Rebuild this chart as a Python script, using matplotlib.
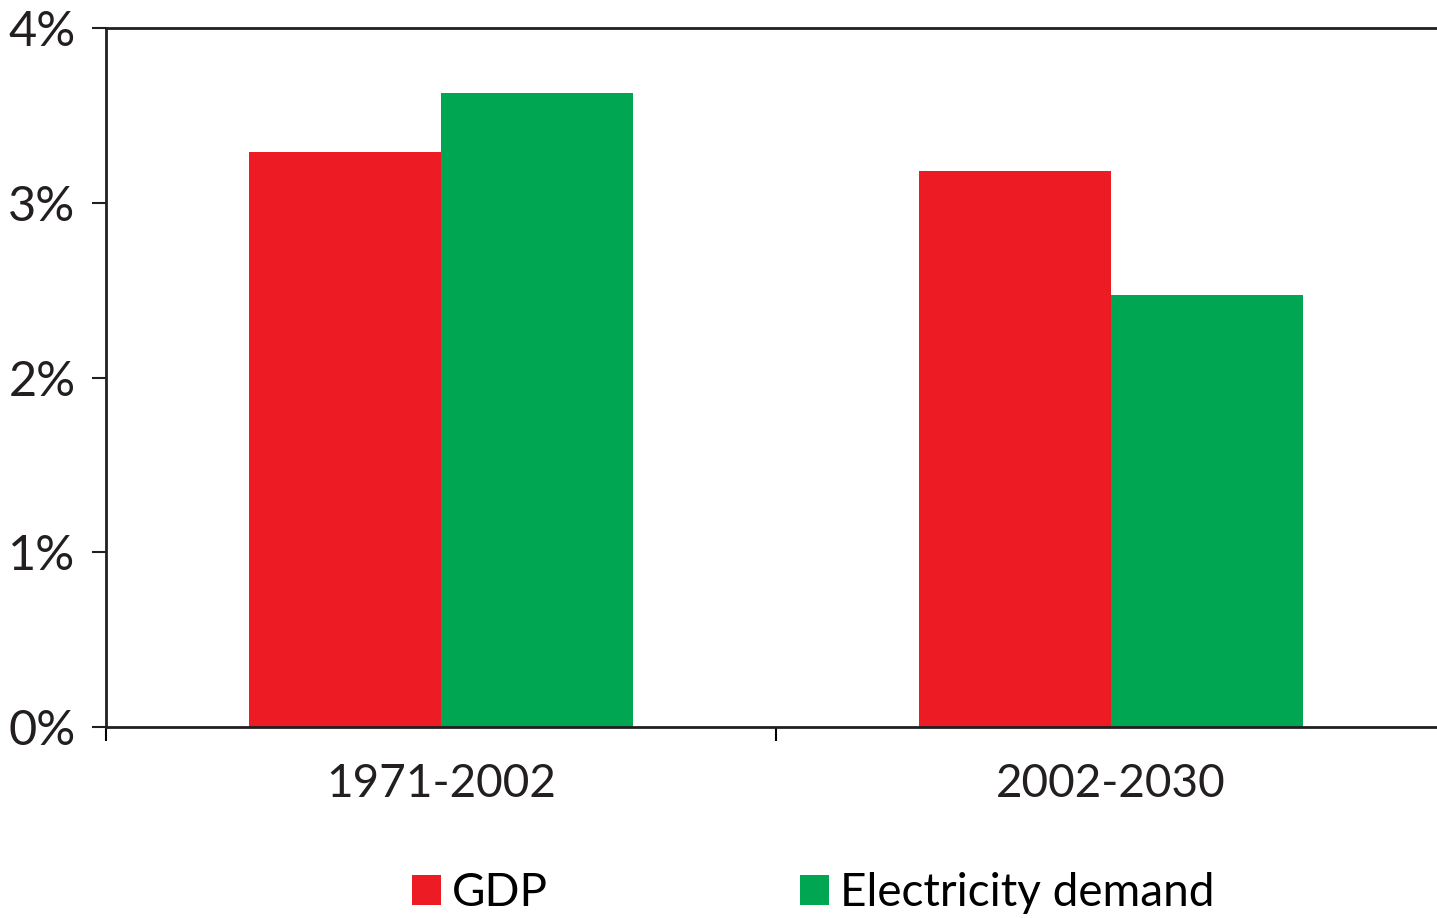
import matplotlib.pyplot as plt
import numpy as np

# data
periods = ["1971-2002", "2002-2030"]
gdp = [3.29, 3.18]
electricity = [3.63, 2.47]

red = "#ED1C24"
green = "#00A651"

plt.rcParams['font.family'] = ['Lato', 'DejaVu Sans']

fig = plt.figure(figsize=(14.37, 9.18), dpi=100)
ax = fig.add_axes([106 / 1437, 1 - 727 / 918, 1 - 106 / 1437, (727 - 28) / 918])

x = np.arange(len(periods))
w = 0.287
ax.bar(x - w / 2, gdp, width=w, color=red, label="GDP")
ax.bar(x + w / 2, electricity, width=w, color=green, label="Electricity demand")

ax.set_xlim(-0.5, 1.487)
ax.set_ylim(0, 4)

ax.set_yticks([0, 1, 2, 3, 4])
ax.set_yticklabels(["0%", "1%", "2%", "3%", "4%"])
ax.set_xticks(x)
ax.set_xticklabels(periods)
ax.set_xticks([-0.5, 0.5], minor=True)

ax.tick_params(axis="y", length=10, width=1.5, pad=12, labelsize=35, colors="#231f20")
ax.tick_params(axis="x", which="major", length=0, pad=26, labelsize=33, colors="#231f20")
ax.tick_params(axis="x", which="minor", length=10, width=1.5)

for s in ["left", "top", "bottom"]:
    ax.spines[s].set_linewidth(2)
    ax.spines[s].set_color("#231f20")
ax.spines["right"].set_visible(False)

fig.legend(loc="center", bbox_to_anchor=(0.566, 0.027), ncol=2, frameon=False,
           fontsize=33, handlelength=0.62, handleheight=0.62, handletextpad=0.25,
           columnspacing=5.5, borderpad=0)

fig.savefig("out.png", dpi=100)
